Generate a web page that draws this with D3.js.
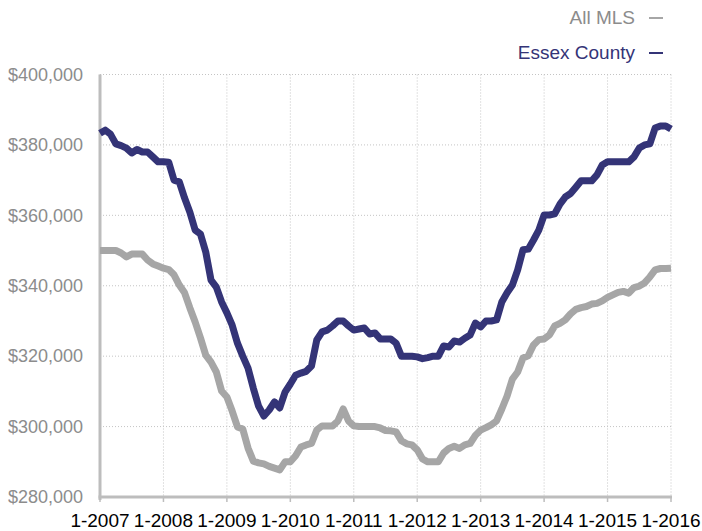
<!DOCTYPE html>
<html lang="en">
<head>
<meta charset="utf-8">
<title>Median Sales Price</title>
<script src="https://d3js.org/d3.v7.min.js"></script>
<style>
  body { margin: 0; background: #fff; }
  text { font-family: "Liberation Sans", Arial, sans-serif; }
</style>
</head>
<body>
<div id="chart"></div>
<script>
// year tick labels (January of each year)
var years = ["1-2007","1-2008","1-2009","1-2010","1-2011","1-2012","1-2013","1-2014","1-2015","1-2016"];
var yTicks = [280000, 300000, 320000, 340000, 360000, 380000, 400000];

// monthly values, Jan 2007 .. Jan 2016, in thousands of dollars
var essexCounty = [
  383.3,384.2,383.0,380.3,379.8,379.1,377.7,378.7,378.0,378.0,376.6,375.2,
  375.2,375.1,370.0,369.5,364.9,360.9,355.8,354.7,349.6,341.6,339.6,335.4,
  332.3,328.8,323.7,320.0,316.6,310.9,305.8,303.0,304.7,307.0,305.3,309.8,
  312.1,314.6,315.2,315.7,317.2,324.6,326.9,327.4,328.6,330.0,330.0,328.6,
  327.4,327.7,328.0,326.3,326.6,324.9,324.9,324.9,323.7,320.0,320.0,320.0,
  319.8,319.3,319.6,320.0,320.0,322.9,322.6,324.3,324.0,325.1,326.0,329.4,
  328.3,330.0,330.0,330.3,335.4,338.0,340.2,344.5,350.2,350.4,353.0,355.8,
  360.1,360.1,360.4,363.2,365.2,366.2,368.0,369.8,369.8,369.8,371.5,374.3,
  375.2,375.2,375.2,375.2,375.2,376.6,379.1,380.0,380.3,384.8,385.4,385.4,
  384.5
];
var allMLS = [
  350.0,350.0,350.0,350.0,349.3,348.2,349.0,349.0,349.0,347.3,346.2,345.6,
  345.0,344.6,343.1,340.2,338.0,333.7,329.7,325.2,320.3,318.3,315.5,310.1,
  308.4,304.4,299.9,299.3,293.9,290.2,289.7,289.4,288.7,288.2,287.7,290.0,
  290.0,291.7,294.2,294.8,295.2,299.0,300.2,300.2,300.2,301.6,305.0,301.6,
  300.2,300.0,300.0,300.0,300.0,299.6,298.9,298.8,298.5,296.0,295.1,294.8,
  293.4,290.8,290.0,290.0,290.0,292.5,293.8,294.4,293.8,294.8,295.2,297.5,
  299.0,299.7,300.5,301.6,305.0,308.7,313.5,315.5,319.5,320.1,323.2,324.7,
  324.9,326.0,328.6,329.3,330.3,332.0,333.3,333.8,334.1,334.8,335.0,335.7,
  336.7,337.4,338.1,338.4,337.9,339.5,339.9,340.8,342.5,344.5,344.9,344.9,
  345.0
];

var svg = d3.select("#chart").append("svg")
  .attr("width", 702)
  .attr("height", 531);

var plotLeft = 100, plotRight = 671, plotTop = 74.5, plotBottom = 497;

var x = d3.scaleLinear().domain([0, 108]).range([plotLeft, plotRight]);
var y = d3.scaleLinear().domain([280000, 400000]).range([plotBottom, plotTop]);

// dotted grid
svg.append("g").selectAll("line")
  .data(yTicks.slice(1))
  .enter().append("line")
    .attr("x1", plotLeft).attr("x2", plotRight)
    .attr("y1", function(d){ return y(d); })
    .attr("y2", function(d){ return y(d); })
    .attr("stroke", "#c4c4c4")
    .attr("stroke-width", 1)
    .attr("stroke-dasharray", "1,2");

svg.append("g").selectAll("line")
  .data(years)
  .enter().append("line")
    .attr("x1", function(d, i){ return x(i * 12); })
    .attr("x2", function(d, i){ return x(i * 12); })
    .attr("y1", plotTop).attr("y2", plotBottom)
    .attr("stroke", "#c4c4c4")
    .attr("stroke-width", 1)
    .attr("stroke-dasharray", "1,2");

// axes
svg.append("line")
  .attr("x1", plotLeft).attr("x2", plotLeft)
  .attr("y1", plotTop).attr("y2", plotBottom + 3)
  .attr("stroke", "#bdbdbd").attr("stroke-width", 3);
svg.append("line")
  .attr("x1", plotLeft - 1.5).attr("x2", plotRight + 1)
  .attr("y1", plotBottom).attr("y2", plotBottom)
  .attr("stroke", "#bdbdbd").attr("stroke-width", 3);
svg.append("g").selectAll("line")
  .data(years)
  .enter().append("line")
    .attr("x1", function(d, i){ return x(i * 12); })
    .attr("x2", function(d, i){ return x(i * 12); })
    .attr("y1", plotBottom).attr("y2", plotBottom + 5)
    .attr("stroke", "#bdbdbd").attr("stroke-width", 1.5);

// y labels
svg.append("g").selectAll("text")
  .data(yTicks)
  .enter().append("text")
    .attr("x", 83)
    .attr("y", function(d){ return y(d); })
    .attr("dy", "0.35em")
    .attr("text-anchor", "end")
    .style("font-size", "18px")
    .attr("fill", "#8c8c8c")
    .text(function(d){ return d3.format("$,")(d); });

// x labels
svg.append("g").selectAll("text")
  .data(years)
  .enter().append("text")
    .attr("x", function(d, i){ return x(i * 12); })
    .attr("y", 527)
    .attr("text-anchor", "middle")
    .style("font-size", "19px")
    .attr("fill", "#000")
    .text(function(d){ return d; });

// lines
var line = d3.line()
  .x(function(d, i){ return x(i); })
  .y(function(d){ return y(d * 1000); });

svg.append("path")
  .datum(allMLS)
  .attr("d", line)
  .attr("fill", "none")
  .attr("stroke", "#a6a6a6")
  .attr("stroke-width", 7)
  .attr("stroke-linejoin", "round");

svg.append("path")
  .datum(essexCounty)
  .attr("d", line)
  .attr("fill", "none")
  .attr("stroke", "#343477")
  .attr("stroke-width", 7)
  .attr("stroke-linejoin", "round");

// legend
var legend = [
  {name: "All MLS", color: "#8c8c8c", dash: "#a6a6a6", y: 24},
  {name: "Essex County", color: "#343477", dash: "#343477", y: 59}
];
legend.forEach(function(l) {
  svg.append("text")
    .attr("x", 635)
    .attr("y", l.y)
    .attr("text-anchor", "end")
    .style("font-size", "19px")
    .attr("fill", l.color)
    .text(l.name);
  svg.append("line")
    .attr("x1", 649).attr("x2", 663)
    .attr("y1", l.y - 6).attr("y2", l.y - 6)
    .attr("stroke", l.dash).attr("stroke-width", 2);
});
</script>
</body>
</html>
